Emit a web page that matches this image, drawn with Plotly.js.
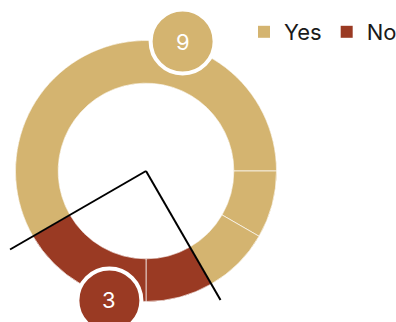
<!DOCTYPE html>
<html>
<head>
<meta charset="utf-8">
<script src="https://cdn.plot.ly/plotly-3.0.1.min.js"></script>
<style>html,body{margin:0;padding:0;background:#fff;}#chart{width:396px;height:322px;}</style>
</head>
<body>
<div id="chart"></div>
<script>
// ---- data ----
var categories = ['Yes', 'No'];
var counts = [9, 3];
var categoryColors = ['#d4b470', '#9a3a23'];
// sub-groups that make up each category (drawn as thin separators)
var segmentCategory = ['Yes', 'Yes', 'Yes', 'No', 'No'];
var segmentValues = [7, 1, 1, 1, 2];

// ---- geometry / style ----
var W = 396, H = 322;
var pieLeft = 15.5, pieRight = 276.5, pieTop = 40.5, pieBottom = 301.5;
var startAngle = 240; // degrees clockwise from 12 o'clock
var holeRatio = 0.673;
var FONT = 'Inter, "Open Sans", sans-serif';

var cx = (pieLeft + pieRight) / 2, cy = (pieTop + pieBottom) / 2;
var rOuter = (pieRight - pieLeft) / 2;
var domain = {
  x: [pieLeft / W, pieRight / W],
  y: [1 - pieBottom / H, 1 - pieTop / H]
};
var rot = startAngle > 180 ? startAngle - 360 : startAngle;

function colorOf(cat) { return categoryColors[categories.indexOf(cat)]; }

var traceMain = {
  type: 'pie', labels: categories, values: counts, sort: false,
  direction: 'clockwise', rotation: rot, hole: holeRatio, domain: domain,
  marker: { colors: categoryColors, line: { width: 0 } },
  textinfo: 'none', hoverinfo: 'label+value', showlegend: true
};
var traceSegments = {
  type: 'pie', labels: segmentValues.map(function (v, i) { return segmentCategory[i] + ' ' + (i + 1); }),
  values: segmentValues, sort: false,
  direction: 'clockwise', rotation: rot, hole: holeRatio, domain: domain,
  marker: { colors: segmentCategory.map(colorOf), line: { color: 'rgba(255,255,255,0.85)', width: 0.8 } },
  textinfo: 'none', hoverinfo: 'skip', showlegend: false
};

// bubbles with counts at each category's mid angle, and boundary lines of the last category
var total = counts.reduce(function (a, b) { return a + b; }, 0);
var shapes = [], annotations = [];
var bubbleR = 32, bubbleDist = rOuter + 4;
var cum = 0;
var boundaryAngles = [];
counts.forEach(function (v, i) {
  var a0 = startAngle + cum / total * 360;
  var mid = startAngle + (cum + v / 2) / total * 360 + 0.8;
  var a1 = startAngle + (cum + v) / total * 360;
  if (i === counts.length - 1) boundaryAngles = [a0, a1];
  cum += v;
  var rad = mid * Math.PI / 180;
  var bx = cx + bubbleDist * Math.sin(rad), by = cy - bubbleDist * Math.cos(rad);
  shapes.push({
    type: 'circle', xref: 'paper', yref: 'paper', xsizemode: 'pixel', ysizemode: 'pixel',
    xanchor: bx / W, yanchor: 1 - by / H,
    x0: -bubbleR, x1: bubbleR, y0: -bubbleR, y1: bubbleR,
    fillcolor: categoryColors[i], line: { color: '#ffffff', width: 4 }
  });
  annotations.push({
    xref: 'paper', yref: 'paper', x: bx / W, y: 1 - by / H, text: String(v),
    showarrow: false, xanchor: 'center', yanchor: 'middle',
    font: { family: FONT, size: 22, color: '#ffffff' }
  });
});
var lineLengths = [149, 157];
boundaryAngles.forEach(function (a, k) {
  var rad = a * Math.PI / 180;
  shapes.push({
    type: 'line', xref: 'paper', yref: 'paper', xsizemode: 'pixel', ysizemode: 'pixel',
    xanchor: cx / W, yanchor: 1 - cy / H,
    x0: 0, y0: 0,
    x1: lineLengths[k] * Math.sin(rad), y1: lineLengths[k] * Math.cos(rad),
    line: { color: '#000000', width: 2 }
  });
});

var layout = {
  width: W, height: H,
  margin: { l: 0, r: 0, t: 0, b: 0, autoexpand: false },
  paper_bgcolor: '#ffffff',
  showlegend: true,
  legend: {
    orientation: 'h', x: 244 / W, xanchor: 'left', y: 1 - 11 / H, yanchor: 'top',
    font: { family: FONT, size: 22, color: '#1a1a1a' }, bgcolor: 'rgba(0,0,0,0)'
  },
  shapes: shapes,
  annotations: annotations
};

Plotly.newPlot('chart', [traceMain, traceSegments], layout, { displayModeBar: false, staticPlot: true });
</script>
</body>
</html>
